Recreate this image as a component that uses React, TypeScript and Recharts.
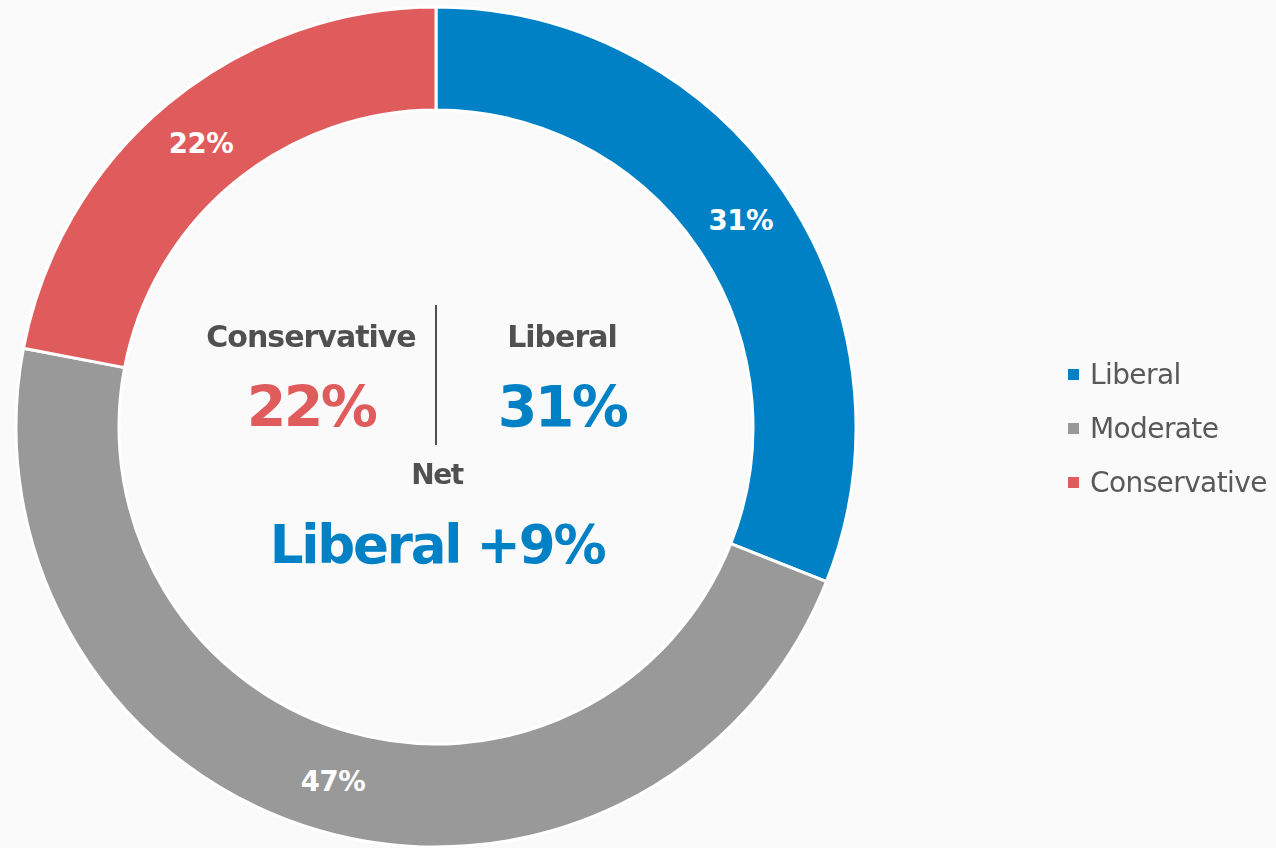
import { PieChart, Pie, Cell, Legend } from 'recharts';

const CATEGORIES = ['Liberal', 'Moderate', 'Conservative'];
const SHARES = [31, 47, 22];
const COLORS = ['#0081C6', '#999999', '#E05C5C'];

const W = 1276;
const H = 848;
const FONT = '"DejaVu Sans", Verdana, sans-serif';
const INK = '#505050';

const data = CATEGORIES.map((name, i) => ({ name, value: SHARES[i] }));

const RAD = Math.PI / 180;

function SliceLabel(props: any) {
  const { cx, cy, midAngle, innerRadius, outerRadius, value } = props;
  const r = (innerRadius + outerRadius) / 2;
  const x = cx + r * Math.cos(-midAngle * RAD);
  const y = cy + r * Math.sin(-midAngle * RAD);
  return (
    <text x={x} y={y} textAnchor="middle" dominantBaseline="central"
      fill="#fff" fontFamily={FONT} fontWeight={700} fontSize={27.5} letterSpacing={-0.4}>
      {value}%
    </text>
  );
}

function LegendBox() {
  return (
    <div style={{ fontFamily: FONT }}>
      {data.map((d, i) => (
        <div key={d.name} style={{ display: 'flex', alignItems: 'center', height: 54 }}>
          <span style={{ width: 11, height: 11, background: COLORS[i], marginRight: 11, display: 'inline-block' }} />
          <span style={{ fontSize: 28, color: '#595959', letterSpacing: '-0.6px' }}>{d.name}</span>
        </div>
      ))}
    </div>
  );
}

export default function App() {
  const lib = SHARES[0];
  const con = SHARES[2];
  const net = lib - con;
  return (
    <div style={{ position: 'fixed', left: 0, top: 0, width: W, height: H, background: '#FAFAFA' }}>
      <PieChart width={W} height={H} margin={{ top: 0, right: 0, bottom: 0, left: 0 }}>
        <Pie
          data={data}
          dataKey="value"
          cx={436}
          cy={427}
          innerRadius={317}
          outerRadius={420}
          startAngle={90}
          endAngle={-270}
          stroke="#FFFFFF"
          strokeWidth={3}
          labelLine={false}
          label={SliceLabel}
          isAnimationActive={false}
        >
          {data.map((d, i) => <Cell key={d.name} fill={COLORS[i]} />)}
        </Pie>
        <Legend
          layout="vertical"
          content={() => <LegendBox />}
          wrapperStyle={{ left: 1068, top: 347, width: 210 }}
        />
      </PieChart>

      {/* centre summary */}
      <svg width={W} height={H} style={{ position: 'absolute', left: 0, top: 0, pointerEvents: 'none' }}>
        <g fontFamily={FONT} fontWeight={700} textAnchor="middle">
          <text x={311} y={347} fontSize={30} letterSpacing={-1} fill={INK}>{CATEGORIES[2]}</text>
          <text x={562} y={347} fontSize={30} letterSpacing={-1} fill={INK}>{CATEGORIES[0]}</text>
          <text x={311} y={427} fontSize={57} letterSpacing={-2.6} fill={COLORS[2]}>{con}%</text>
          <text x={562} y={427} fontSize={57} letterSpacing={-2.6} fill={COLORS[0]}>{lib}%</text>
          <line x1={436} x2={436} y1={305} y2={445} stroke={INK} strokeWidth={2} />
          <text x={437} y={484} fontSize={28} letterSpacing={-1.5} fill={INK}>Net</text>
          <text x={437} y={563} fontSize={53} letterSpacing={-2.2} fill={COLORS[0]}>{CATEGORIES[0]} +{net}%</text>
        </g>
      </svg>
    </div>
  );
}
